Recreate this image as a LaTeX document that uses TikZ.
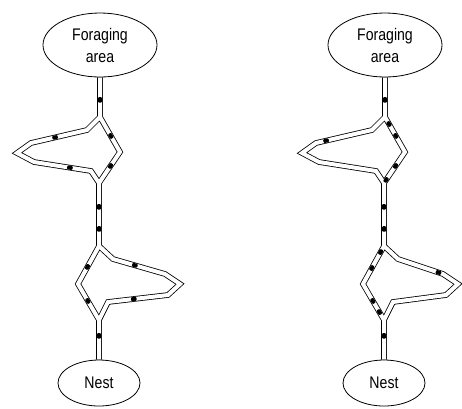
\documentclass[tikz,border=0pt]{standalone}
\usepackage{fontspec}
\setmainfont{Liberation Sans}[FakeStretch=0.84]
\usetikzlibrary{shapes.geometric,backgrounds}

\begin{document}
\begin{tikzpicture}[x=1pt,y=-1pt,
    chan/.style={double,double distance=4pt,line width=0.8pt},
    dot/.style={fill=black,inner sep=0pt,minimum width=5.5pt,minimum height=4pt,rounded corners=1pt,sloped},
    site/.style={draw,ellipse,line width=0.8pt,align=center,inner sep=0pt,
        font=\fontsize{16.8}{22}\selectfont}]
    \useasboundingbox (0,0) rectangle (462,408);

    % the two trail networks, nest below and foraging area above
    \foreach \p/\x/\tip in {a/0/180,b/285/173} {
    \begin{scope}[xshift=\x pt]
        \node[site,minimum width=114pt,minimum height=64pt] (\p-fa) at (100,45) {Foraging\\area};
        \node[site,minimum width=82pt,minimum height=46pt] (\p-na) at (99,383) {Nest};

        \coordinate (\p-u1) at (100,117);
        \coordinate (\p-ul1) at (87,130);
        \coordinate (\p-ul2) at (31,143);
        \coordinate (\p-ul3) at (17,153);
        \coordinate (\p-ul4) at (34,162);
        \coordinate (\p-ul5) at (91,171);
        \coordinate (\p-ur) at (120,152);
        \coordinate (\p-u2) at (99,183);

        \coordinate (\p-l1) at (99,246);
        \coordinate (\p-ll) at (78,284);
        \coordinate (\p-lr1) at (113,259);
        \coordinate (\p-lr2) at ({\tip-15},274);
        \coordinate (\p-lr3) at (\tip,284);
        \coordinate (\p-lr4) at ({\tip-12},295);
        \coordinate (\p-lr5) at (108,302);
        \coordinate (\p-l2) at (99,320);

        \begin{pgfonlayer}{background}
        \draw[chan] (\p-fa) -- (\p-u1) -- (\p-ul1) -- (\p-ul2) -- (\p-ul3) -- (\p-ul4) -- (\p-ul5)
            -- (\p-u2) -- (\p-l1) -- (\p-ll) -- (\p-l2) -- (\p-na)
            (\p-u1) -- (\p-ur) -- (\p-u2)
            (\p-l1) -- (\p-lr1) -- (\p-lr2) -- (\p-lr3) -- (\p-lr4) -- (\p-lr5) -- (\p-l2);
        \end{pgfonlayer}
    \end{scope}
    }

    % ants on the left network
    \foreach \s/\e/\t [count=\i] in {fa/u1/.57,u1/ur/.54,ur/u2/.45,ul1/ul2/.57,ul4/ul5/.63,
        u2/l1/.38,u2/l1/.73,l1/ll/.55,ll/l2/.47,lr1/lr2/.42,lr4/lr5/.57,l2/na/.4}
        \path (a-\s) -- (a-\e) node[dot,pos=\t] (a-d\i) {};

    % ants on the right network
    \foreach \s/\e/\t [count=\i] in {fa/u1/.57,u1/ur/.2,u1/ur/.54,ur/u2/.45,ur/u2/.9,ul1/ul2/.82,
        u2/l1/.38,u2/l1/.73,l1/ll/.16,l1/ll/.58,ll/l2/.47,ll/l2/.78,lr1/lr2/.9,l2/na/.4}
        \path (b-\s) -- (b-\e) node[dot,pos=\t] (b-d\i) {};
\end{tikzpicture}
\end{document}
